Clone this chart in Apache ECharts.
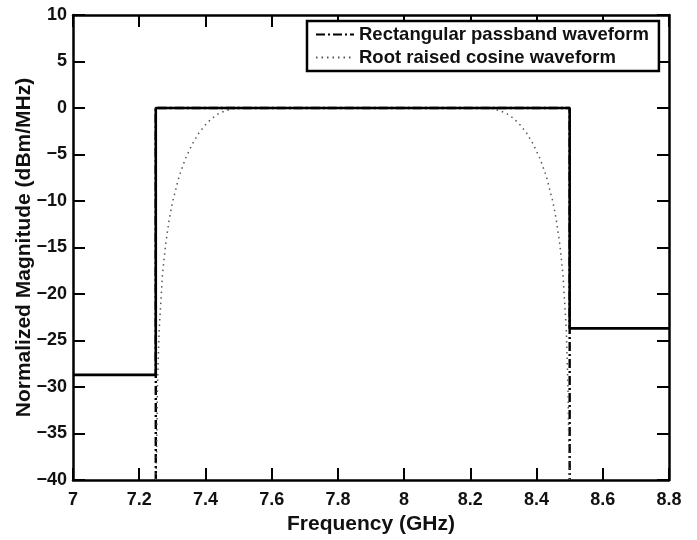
<!DOCTYPE html>
<html>
<head>
<meta charset="utf-8">
<script src="https://cdn.jsdelivr.net/npm/echarts@6/dist/echarts.min.js"></script>
<style>
  html, body { margin: 0; padding: 0; background: #ffffff; }
  #chart { width: 697px; height: 540px; }
</style>
</head>
<body>
<div id="chart"></div>
<script>
// Frequency axis (GHz) and magnitude axis (dBm/MHz) ranges
const xTicks = [7, 7.2, 7.4, 7.6, 7.8, 8, 8.2, 8.4, 8.6, 8.8];
const yTicks = [-40, -35, -30, -25, -20, -15, -10, -5, 0, 5, 10];

// Rectangular passband waveform
const rectFreq = [7.25, 7.25, 8.5, 8.5];
const rectMag  = [-40, 0, 0, -40];

// Root raised cosine waveform
const rrcFreq = [7.25, 7.252, 7.255, 7.26, 7.27, 7.28, 7.29, 7.30, 7.32, 7.34, 7.36, 7.38,
                 7.40, 7.42, 7.44, 7.46, 7.48, 7.50, 8.25, 8.27, 8.29, 8.31, 8.33, 8.35,
                 8.37, 8.39, 8.41, 8.43, 8.45, 8.46, 8.47, 8.48, 8.49, 8.495, 8.498, 8.5];
const rrcMag  = [-40, -38.0, -30.1, -24.0, -18.0, -14.6, -12.1, -10.2, -7.4, -5.4, -3.9, -2.7,
                 -1.8, -1.1, -0.6, -0.3, -0.1, 0, 0, -0.1, -0.3, -0.6, -1.1, -1.8,
                 -2.7, -3.9, -5.4, -7.4, -10.2, -12.1, -14.6, -18.0, -24.0, -30.1, -38.0, -40];

// Emission mask (solid)
const maskFreq = [7, 7.25, 7.25, 8.5, 8.5, 8.8];
const maskMag  = [-28.7, -28.7, 0, 0, -23.7, -23.7];

const pairs = (xs, ys) => xs.map((x, i) => [x, ys[i]]);

const FONT = '"Liberation Sans", Arial, Helvetica, sans-serif';
const AXIS_W = 2.5;

const chart = echarts.init(document.getElementById('chart'), null, { renderer: 'canvas' });

const baseX = {
  type: 'value',
  min: xTicks[0],
  max: xTicks[xTicks.length - 1],
  interval: 0.2,
  splitLine: { show: false },
  axisLine: { show: true, onZero: false, lineStyle: { color: '#000', width: AXIS_W } },
  axisTick: { show: true, inside: true, length: 12, lineStyle: { color: '#000', width: 2 } }
};
const baseY = {
  type: 'value',
  min: yTicks[0],
  max: yTicks[yTicks.length - 1],
  interval: 5,
  splitLine: { show: false },
  axisLine: { show: true, onZero: false, lineStyle: { color: '#000', width: AXIS_W } },
  axisTick: { show: true, inside: true, length: 12, lineStyle: { color: '#000', width: 2 } }
};

chart.setOption({
  animation: false,
  backgroundColor: '#ffffff',
  grid: { left: 73, right: 28, top: 15, bottom: 56, containLabel: false },
  legend: {
    data: ['Rectangular passband waveform', 'Root raised cosine waveform'],
    orient: 'vertical',
    left: 307,
    top: 21,
    itemWidth: 38,
    itemHeight: 14,
    itemGap: 4,
    padding: [4, 10, 4, 8],
    borderColor: '#000',
    borderWidth: 2.5,
    backgroundColor: '#fff',
    itemStyle: { color: 'rgba(0,0,0,0)', borderWidth: 0, opacity: 0 },
    textStyle: { fontFamily: FONT, fontWeight: 'bold', fontSize: 18.5, color: '#111' }
  },
  xAxis: [
    Object.assign({}, baseX, {
      position: 'bottom',
      name: 'Frequency (GHz)',
      nameLocation: 'middle',
      nameGap: 34,
      nameMoveOverlap: false,
      nameTextStyle: { fontFamily: FONT, fontWeight: 'bold', fontSize: 21, color: '#111' },
      axisLabel: {
        margin: 11,
        fontFamily: FONT, fontWeight: 'bold', fontSize: 18, color: '#111',
        formatter: v => String(+v.toFixed(1))
      }
    }),
    Object.assign({}, baseX, { position: 'top', axisLabel: { show: false } })
  ],
  yAxis: [
    Object.assign({}, baseY, {
      position: 'left',
      name: 'Normalized Magnitude (dBm/MHz)',
      nameLocation: 'middle',
      nameGap: 38,
      nameMoveOverlap: false,
      nameTextStyle: { fontFamily: FONT, fontWeight: 'bold', fontSize: 21, color: '#111' },
      axisLabel: {
        margin: 6,
        fontFamily: FONT, fontWeight: 'bold', fontSize: 18, color: '#111',
        formatter: v => (v < 0 ? '\u2212' + Math.abs(v) : String(v))
      }
    }),
    Object.assign({}, baseY, { position: 'right', axisLabel: { show: false } })
  ],
  series: [
    {
      name: 'Rectangular passband waveform',
      type: 'line',
      xAxisIndex: 0, yAxisIndex: 0,
      showSymbol: false, symbol: 'none',
      data: pairs(rectFreq, rectMag),
      lineStyle: { color: '#000', width: 2.4, type: [9, 3, 2, 3] },
      itemStyle: { color: '#000' },
      z: 2
    },
    {
      name: 'Root raised cosine waveform',
      type: 'line',
      xAxisIndex: 0, yAxisIndex: 0,
      showSymbol: false, symbol: 'none',
      data: pairs(rrcFreq, rrcMag),
      lineStyle: { color: '#555', width: 1.5, type: [1.5, 4] },
      itemStyle: { color: '#555' },
      z: 3
    },
    {
      name: 'Mask',
      type: 'line',
      xAxisIndex: 0, yAxisIndex: 0,
      showSymbol: false, symbol: 'none',
      data: pairs(maskFreq, maskMag),
      lineStyle: { color: '#000', width: 2.6 },
      itemStyle: { color: '#000' },
      z: 4
    }
  ]
});
</script>
</body>
</html>
